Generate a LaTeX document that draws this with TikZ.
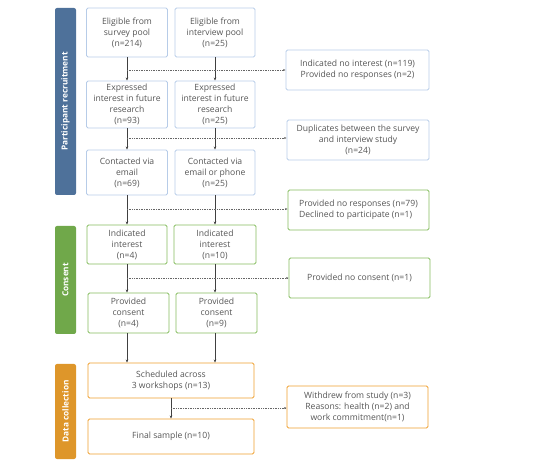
\documentclass[tikz,border=0pt]{standalone}
\usepackage{fontspec}
\setmainfont{Open Sans}
\usetikzlibrary{arrows.meta}
\definecolor{txt}{HTML}{555555}
\definecolor{bluebd}{HTML}{B7CCE8}
\definecolor{greenbd}{HTML}{84BC5E}
\definecolor{orangebd}{HTML}{EE9F2E}
\definecolor{bluebar}{HTML}{4E719A}
\definecolor{greenbar}{HTML}{70A84A}
\definecolor{orangebar}{HTML}{DE962A}
\definecolor{lncol}{HTML}{404040}
\begin{document}
\begin{tikzpicture}[x=1pt,y=-1pt,
  box/.style={draw, rectangle, rounded corners=1.5pt, line width=0.9pt, align=center,
    text=txt, font=\fontsize{8.6}{11}\selectfont, inner sep=1pt},
  bluebox/.style={box, draw=bluebd},
  greenbox/.style={box, draw=greenbd},
  orangebox/.style={box, draw=orangebd},
  bar/.style={rectangle, rounded corners=2pt, minimum width=21pt, text=white,
    font=\bfseries\fontsize{8.3}{9}\selectfont, inner sep=0pt},
  bartext/.style={rotate=90, text=white, font=\bfseries\fontsize{8.3}{9}\selectfont},
  arr/.style={draw=lncol, line width=0.6pt, -{Stealth[length=3pt,width=2.5pt]}},
  dsh/.style={draw=lncol!80, line width=0.5pt, dash pattern=on 1pt off 0.7pt,
    -{Stealth[length=2.5pt,width=2pt]}}
]
\useasboundingbox (0,0) rectangle (555,465);

% sidebars
\node[bar, fill=bluebar, minimum height=187pt] (b1) at (65.5,101.5) {};
\node[bartext] (b1t) at (b1.center) {Participant recruitment};
\node[bar, fill=greenbar, minimum height=108pt] (b2) at (65.5,280) {};
\node[bartext] (b2t) at (b2.center) {Consent};
\node[bar, fill=orangebar, minimum height=95pt] (b3) at (65.5,411.5) {};
\node[bartext] (b3t) at (b3.center) {Data collection};

% main boxes
\node[bluebox, minimum width=81pt, minimum height=49pt] (e1) at (127,32.5) {Eligible from\\survey pool\\(n=214)};
\node[bluebox, minimum width=80pt, minimum height=49pt] (e2) at (215,32.5) {Eligible from\\interview pool\\(n=25)};
\node[bluebox, minimum width=81pt, minimum height=47pt] (x1) at (127,104.5) {Expressed\\interest in future\\research\\(n=93)};
\node[bluebox, minimum width=80pt, minimum height=47pt] (x2) at (215,104.5) {Expressed\\interest in future\\research\\(n=25)};
\node[bluebox, minimum width=81pt, minimum height=45pt] (c1) at (127,172.5) {Contacted via\\email\\(n=69)};
\node[bluebox, minimum width=80pt, minimum height=45pt] (c2) at (215,172.5) {Contacted via\\email or phone\\(n=25)};
\node[greenbox, minimum width=80pt, minimum height=39pt] (i1) at (127,244.5) {Indicated\\interest\\(n=4)};
\node[greenbox, minimum width=82pt, minimum height=39pt] (i2) at (215,244.5) {Indicated\\interest\\(n=10)};
\node[greenbox, minimum width=81pt, minimum height=40pt] (p1) at (128.5,313) {Provided\\consent\\(n=4)};
\node[greenbox, minimum width=81pt, minimum height=40pt] (p2) at (216.5,313) {Provided\\consent\\(n=9)};
\node[orangebox, minimum width=166pt, minimum height=35pt] (s) at (171,380.5) {Scheduled across\\3 workshops (n=13)};
\node[orangebox, minimum width=166pt, minimum height=35pt] (f) at (171,436.5) {Final sample (n=10)};

% side boxes
\node[bluebox, minimum width=143pt, minimum height=40pt] (r1) at (357.5,70) {Indicated no interest (n=119)\\Provided no responses (n=2)};
\node[bluebox, minimum width=142pt, minimum height=40pt] (r2) at (358,140) {Duplicates between the survey\\and interview study\\(n=24)};
\node[greenbox, minimum width=141pt, minimum height=40pt, align=left] (r3) at (358.5,210) {Provided no responses (n=79)\\Declined to participate (n=1)};
\node[greenbox, minimum width=141pt, minimum height=40pt] (r4) at (359.5,278) {Provided no consent (n=1)};
\node[orangebox, minimum width=141pt, minimum height=42pt] (r5) at (357.5,407) {Withdrew from study (n=3)\\Reasons: health (n=2) and\\work commitment(n=1)};

% vertical arrows
\draw[arr] (e1) -- (x1);
\draw[arr] (e2) -- (x2);
\draw[arr] (x1) -- (c1);
\draw[arr] (x2) -- (c2);
\draw[arr] (c1) -- (i1);
\draw[arr] (c2) -- (i2);
\draw[arr] (i1.south) -- (i1.south |- p1.north);
\draw[arr] (i2.south) -- (i2.south |- p2.north);
\draw[arr] (p1.south -| i1.south) -- (i1.south |- s.north);
\draw[arr] (p2.south -| i2.south) -- (i2.south |- s.north);
\draw[arr] (s) -- (f);

% dashed exclusions
\coordinate (d1) at (127,70);
\coordinate (d2) at (127,138);
\coordinate (d3) at (127,209);
\coordinate (d4) at (127,278);
\coordinate (d5) at (171,408);
\draw[dsh] (d1) -- (d1 -| r1.west);
\draw[dsh] (d2) -- (d2 -| r2.west);
\draw[dsh] (d3) -- (d3 -| r3.west);
\draw[dsh] (d4) -- (d4 -| r4.west);
\draw[dsh] (d5) -- (d5 -| r5.west);
\end{tikzpicture}
\end{document}
